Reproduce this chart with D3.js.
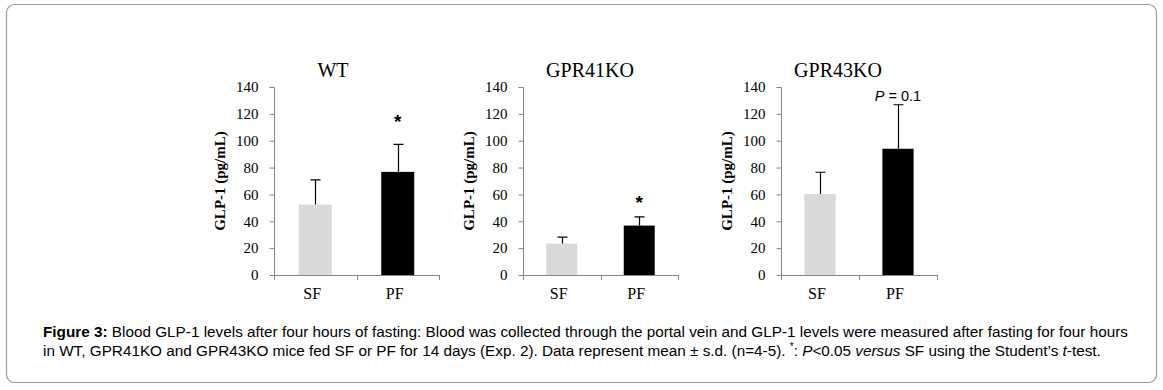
<!DOCTYPE html>
<html>
<head>
<meta charset="utf-8">
<script src="https://cdn.jsdelivr.net/npm/d3@7"></script>
<style>
	body { margin: 0; background: #fff; }
	svg { display: block; }
	.tick-label { font-family: 'Liberation Serif', 'Times New Roman', serif; font-size: 15px; fill: #000; }
	.cat-label { font-family: 'Liberation Serif', 'Times New Roman', serif; font-size: 16px; fill: #000; }
	.panel-title { font-family: 'Liberation Serif', 'Times New Roman', serif; font-size: 20px; fill: #000; }
	.y-title { font-family: 'Liberation Serif', 'Times New Roman', serif; font-size: 15px; font-weight: bold; fill: #000; }
	.caption { font-family: 'Liberation Sans', Arial, sans-serif; font-size: 15.3px; fill: #000; }
</style>
</head>
<body>
<svg id="chart-1" width="1163" height="390"></svg>
<script>
// ---- data ----
const panelTitles = ['WT', 'GPR41KO', 'GPR43KO'];
const groups = ['SF', 'PF'];
const meanWT = [52.5, 76.8];
const sdWT = [18.3, 20.5];
const meanGPR41 = [23.4, 36.8];
const sdGPR41 = [4.8, 6.5];
const meanGPR43 = [60.3, 94.0];
const sdGPR43 = [16.2, 32.8];
const yTicks = [0, 20, 40, 60, 80, 100, 120, 140];
const marksWT = ['', '*'];
const marksGPR41 = ['', '*'];
const marksGPR43 = ['', 'P = 0.1'];
const yLabel = 'GLP-1 (pg/mL)';
const captionLines = [
	[{t: 'Figure 3:', b: true}, {t: ' Blood GLP-1 levels after four hours of fasting: Blood was collected through the portal vein and GLP-1 levels were measured after fasting for four hours'}],
	[{t: 'in WT, GPR41KO and GPR43KO mice fed SF or PF for 14 days (Exp. 2). Data represent mean \u00b1 s.d. (n=4-5). '}, {t: '*', sup: true}, {t: ': '}, {t: 'P', i: true}, {t: '<0.05 '}, {t: 'versus', i: true}, {t: ' SF using the Student\u2019s '}, {t: 't', i: true}, {t: '-test.'}]
];

const panels = [
	{title: panelTitles[0], mean: meanWT, sd: sdWT, marks: marksWT},
	{title: panelTitles[1], mean: meanGPR41, sd: sdGPR41, marks: marksGPR41},
	{title: panelTitles[2], mean: meanGPR43, sd: sdGPR43, marks: marksGPR43}
];

// ---- layout ----
const axisLeft = [274, 523, 781];
const axisRight = [439, 678, 937];
const titleX = [333, 590, 838];
const starLift = [16, 8];
const yTop = 87, yBottom = 275;
const barColors = ['#d9d9d9', '#000000'];
const axisColor = '#868686';

const svg = d3.select('svg#chart-1');

// frame
svg.append('rect')
	.attr('x', 6.5).attr('y', 4.5)
	.attr('width', 1150).attr('height', 378)
	.attr('rx', 8)
	.attr('fill', '#fff')
	.attr('stroke', '#9a9a9a')
	.attr('stroke-width', 1.2);

const y = d3.scaleLinear().domain([0, 140]).range([yBottom, yTop]);

panels.forEach((p, i) => {
	const g = svg.append('g');
	const x = d3.scaleBand()
		.domain(groups)
		.range([axisLeft[i], axisRight[i]])
		.paddingInner(0.6)
		.paddingOuter(0.3);
	const x0 = axisLeft[i];

	// y axis
	const yAxis = d3.axisLeft(y).tickValues(yTicks).tickSize(5).tickPadding(11);
	const ya = g.append('g').attr('transform', `translate(${x0 + 0.5},0)`).call(yAxis);
	ya.select('.domain').attr('stroke', axisColor).attr('d', `M-5,${yTop}.5H0V${yBottom}.5`);
	ya.selectAll('.tick line').attr('stroke', axisColor);
	ya.selectAll('.tick text').attr('class', 'tick-label').attr('font-size', null).attr('font-family', null).attr('fill', null);

	// x axis line with ticks at edges and between categories
	const edges = [axisLeft[i], (axisLeft[i] + axisRight[i]) / 2, axisRight[i]];
	g.append('line')
		.attr('x1', axisLeft[i]).attr('x2', axisRight[i])
		.attr('y1', yBottom + 0.5).attr('y2', yBottom + 0.5)
		.attr('stroke', axisColor);
	g.selectAll('.xtick').data(edges).enter().append('line')
		.attr('class', 'xtick')
		.attr('x1', d => Math.round(d) + 0.5).attr('x2', d => Math.round(d) + 0.5)
		.attr('y1', yBottom).attr('y2', yBottom + 5)
		.attr('stroke', axisColor);

	// error bars (upper only)
	const rows = groups.map((k, j) => ({k, m: p.mean[j], s: p.sd[j], mark: p.marks[j], j}));
	g.selectAll('.bar').data(rows).enter().append('rect')
		.attr('class', 'bar')
		.attr('x', d => x(d.k))
		.attr('y', d => y(d.m))
		.attr('width', x.bandwidth())
		.attr('height', d => y(0) - y(d.m))
		.attr('fill', d => barColors[d.j]);

	g.selectAll('.err').data(rows).enter().append('path')
		.attr('class', 'err')
		.attr('fill', 'none')
		.attr('stroke', '#000')
		.attr('stroke-width', 1.2)
		.attr('d', d => {
			const cx = Math.round(x(d.k) + x.bandwidth() / 2) + 0.5;
			const yt = y(d.m + d.s);
			return `M${cx},${y(d.m)}V${yt}M${cx - 5},${yt}H${cx + 5}`;
		});

	// category labels
	g.selectAll('.cat').data(groups).enter().append('text')
		.attr('class', 'cat-label')
		.attr('x', d => x(d) + x.bandwidth() / 2 - 3)
		.attr('y', yBottom + 24)
		.attr('text-anchor', 'middle')
		.text(d => d);

	// significance marks
	rows.filter(d => d.mark).forEach(d => {
		const cx = x(d.k) + x.bandwidth() / 2;
		const yt = y(d.m + d.s);
		if (d.mark === '*') {
			g.append('text')
				.attr('x', cx)
				.attr('y', yt - starLift[Math.min(i, 1)])
				.attr('text-anchor', 'middle')
				.attr('font-family', 'Liberation Sans, Arial, sans-serif')
				.attr('font-size', 19)
				.attr('font-weight', 'bold')
				.text('*');
		} else {
			const t = g.append('text')
				.attr('x', cx)
				.attr('y', yt - 4)
				.attr('text-anchor', 'middle')
				.attr('font-family', 'Liberation Sans, Arial, sans-serif')
				.attr('font-size', 14.5);
			const parts = d.mark.split(' ');
			t.append('tspan').attr('font-style', 'italic').text(parts[0]);
			t.append('tspan').text(' ' + parts.slice(1).join(' '));
		}
	});

	// y title
	g.append('text')
		.attr('class', 'y-title')
		.attr('transform', `translate(${x0 - 49},${(yTop + yBottom) / 2}) rotate(-90)`)
		.attr('text-anchor', 'middle')
		.text(yLabel);

	// panel title
	g.append('text')
		.attr('class', 'panel-title')
		.attr('x', titleX[i])
		.attr('y', 77)
		.attr('text-anchor', 'middle')
		.text(p.title);
});

// caption
const cap = svg.append('text').attr('class', 'caption');
captionLines.forEach((line, li) => {
	line.forEach((seg, si) => {
		const ts = cap.append('tspan').text(seg.t);
		if (si === 0) ts.attr('x', 43).attr('y', 337 + li * 19);
		if (seg.b) ts.attr('font-weight', 'bold');
		if (seg.i) ts.attr('font-style', 'italic');
		if (seg.sup) ts.attr('font-size', 10).attr('dy', -6);
		if (line[si - 1] && line[si - 1].sup) ts.attr('dy', 6);
	});
});
</script>
</body>
</html>
